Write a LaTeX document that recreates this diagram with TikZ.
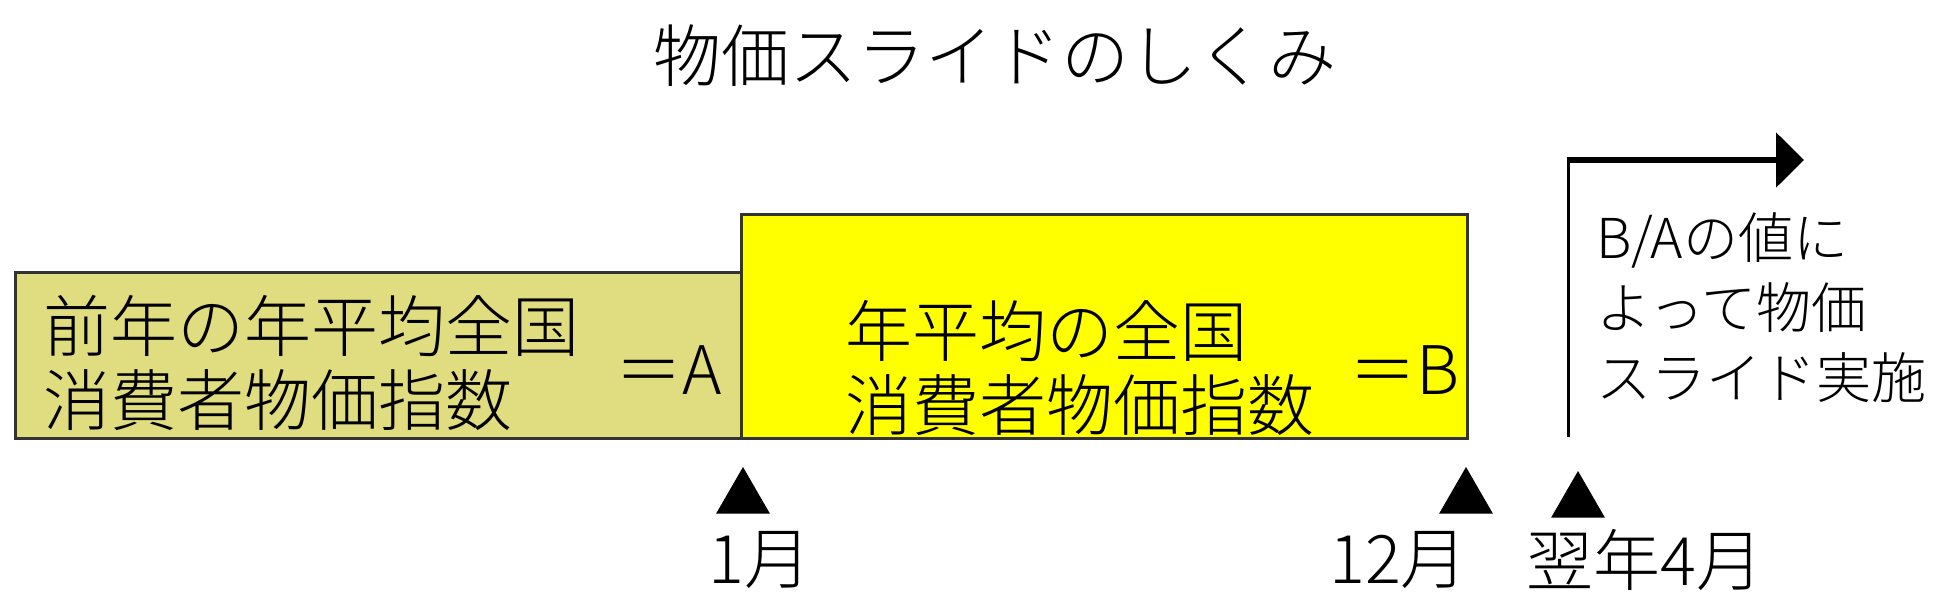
\documentclass[tikz,border=0pt]{standalone}
\usepackage{fontspec}
\usepackage{tikz}
\usetikzlibrary{arrows.meta,shapes.geometric}
\newfontfamily\jpfont{Noto Sans CJK JP Light}
\definecolor{lastyear}{RGB}{224,220,128}
\definecolor{thisyear}{RGB}{255,255,0}

\tikzset{
  period/.style={draw=black!80, line width=3pt, inner sep=0pt, anchor=north west},
  boxtext/.style={font=\jpfont\fontsize{67}{74}\selectfont, inner sep=0pt, align=left, anchor=west},
  notetext/.style={font=\jpfont\fontsize{55}{70}\selectfont, inner sep=0pt, align=left, anchor=west},
  monthtext/.style={font=\jpfont\fontsize{67}{74}\selectfont, inner sep=0pt, anchor=west},
  marker/.style={regular polygon, regular polygon sides=3, fill=black, minimum size=62pt, inner sep=0pt}
}

\begin{document}
\begin{tikzpicture}[x=1pt,y=-1pt]
    %pixel grid of the reference, y runs downwards
    \useasboundingbox (0,0) rectangle (1939,600);
    \node[font=\jpfont\fontsize{68}{74}\selectfont, inner sep=0pt] (title) at (995,56) {物価スライドのしくみ};

    %the two yearly periods
    \node[period, fill=lastyear, minimum width=726pt, minimum height=166pt] (prev) at (14,271) {};
    \node[period, fill=thisyear, minimum width=726pt, minimum height=224pt] (curr) at (740,213) {};
    \node[boxtext] (prevname) at (43,363) {前年の年平均全国\\消費者物価指数};
    \node[boxtext] (preva) at (615,370) {＝A};
    \node[boxtext] (currname) at (845,368) {年平均の全国\\消費者物価指数};
    \node[boxtext] (currb) at (1349,370) {＝B};

    %month markers
    \node[marker] (jan) at (743,498) {};
    \node[marker] (dec) at (1466,498) {};
    \node[marker] (apr) at (1578,502) {};
    \node[monthtext] (janlabel) at (708,560) {1月};
    \node[monthtext] (declabel) at (1329,560) {12月};
    \node[monthtext] (aprlabel) at (1526,560) {翌年4月};

    %slide from next April on
    \coordinate (rise) at (1568,437);
    \coordinate (bend) at (1568,160);
    \coordinate (goal) at (1804,160);
    \draw[line width=3pt] (rise) -- (bend);
    \draw[line width=6pt, -{Triangle[length=28pt,width=54pt]}] ([xshift=-1.5pt]bend) -- (goal);
    \node[notetext] (note) at (1596,308) {B/Aの値に\\よって物価\\スライド実施};
\end{tikzpicture}
\end{document}
